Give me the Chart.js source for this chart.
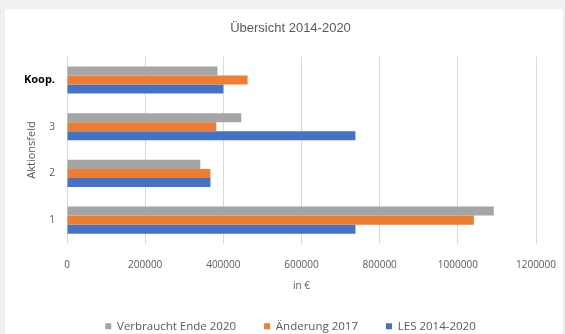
<!DOCTYPE html>
<html>
<head>
<meta charset="utf-8">
<script src="https://cdn.jsdelivr.net/npm/chart.js@4"></script>
<style>
  html, body { margin: 0; padding: 0; background: #f0f0f0; overflow: hidden; }
  #box { position: absolute; left: 5px; top: 9px; width: 558px; height: 333px; background: #fff; }
</style>
</head>
<body>
<div id="box"><canvas id="myChart"></canvas></div>
<script>
// Kategorien (von oben nach unten wie im Bild)
const aktionsfelder = ['Koop.', '3', '2', '1'];
const verbraucht2020 = [385000, 446000, 341000, 1092000];
const aenderung2017 = [462000, 382000, 367000, 1041000];
const les20142020 = [400000, 738000, 367000, 738000];
const xTicks = [0, 200000, 400000, 600000, 800000, 1000000, 1200000];

const tickFont = { family: 'Open Sans', size: 10 };

new Chart(document.getElementById('myChart'), {
  type: 'bar',
  data: {
    labels: aktionsfelder,
    datasets: [
      { label: 'Verbraucht Ende 2020', data: verbraucht2020, backgroundColor: '#a5a5a5' },
      { label: 'Änderung 2017', data: aenderung2017, backgroundColor: '#ed7d31' },
      { label: 'LES 2014-2020', data: les20142020, backgroundColor: '#4472c4' },
    ],
  },
  options: {
    indexAxis: 'y',
    responsive: true,
    maintainAspectRatio: false,
    animation: false,
    layout: { padding: { left: 20, right: 7, top: 8, bottom: 0 } },
    datasets: { bar: { categoryPercentage: 0.58, barPercentage: 1.0 } },
    plugins: {
      title: {
        display: true,
        text: 'Übersicht 2014-2020',
        color: '#595959',
        font: { family: 'Liberation Sans', size: 13, weight: 'normal' },
        padding: { top: 4, bottom: 20 },
      },
      legend: {
        position: 'bottom',
        labels: {
          boxWidth: 6,
          boxHeight: 6,
          color: '#595959',
          font: { family: 'Open Sans', size: 11.5 },
          padding: 28,
        },
      },
      tooltip: { enabled: false },
    },
    scales: {
      x: {
        min: 0,
        max: 1200000,
        afterBuildTicks: (axis) => { axis.ticks = xTicks.map(v => ({ value: v })); },
        afterFit: (axis) => { axis.paddingRight = 27; },
        ticks: {
          color: '#595959',
          font: tickFont,
          padding: 16,
          callback: (v) => String(v),
        },
        grid: { color: '#d9d9d9', drawTicks: false },
        border: { display: false },
        title: {
          display: true,
          text: 'in €',
          color: '#595959',
          font: tickFont,
          padding: { top: -7, bottom: 0 },
        },
      },
      y: {
        clip: false,
        afterFit: (axis) => { axis.width = 42; },
        ticks: {
          color: (ctx) => ctx.index === 0 ? '#000' : '#595959',
          font: (ctx) => ctx.index === 0
            ? { family: 'Open Sans', size: 11, weight: 'bold' }
            : tickFont,
          padding: 4,
        },
        grid: { display: false },
        border: { display: false },
        title: {
          display: true,
          text: 'Aktionsfeld',
          color: '#595959',
          font: { family: 'Open Sans', size: 11 },
          padding: { top: 0, bottom: 4 },
        },
      },
    },
  },
});
</script>
</body>
</html>
